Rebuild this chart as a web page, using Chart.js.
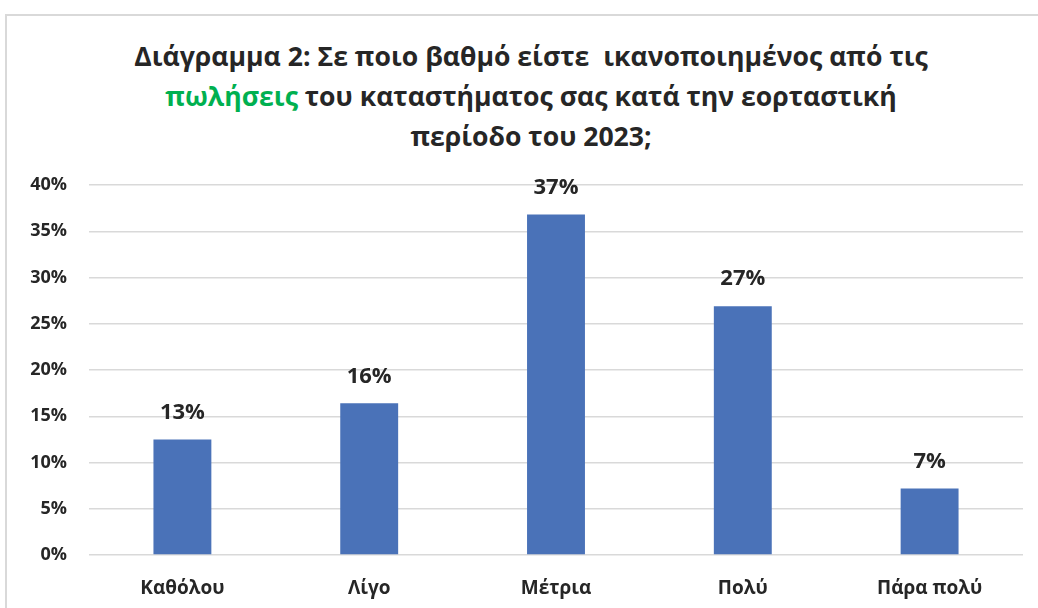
<!DOCTYPE html>
<html>
<head>
<meta charset="utf-8">
<script src="https://cdn.jsdelivr.net/npm/chart.js@4/dist/chart.umd.min.js"></script>
<style>
  html, body { margin: 0; padding: 0; background: #fff; }
  #wrap { position: relative; width: 1038px; height: 608px; overflow: hidden; }
  #frame {
    position: absolute; left: 5px; top: 14px; width: 1060px; height: 620px;
    border: 2px solid #d9d9d9; box-sizing: border-box;
  }
  #title {
    position: absolute; left: 81px; width: 900px; top: 36px;
    text-align: center; font-family: "Open Sans", sans-serif; font-weight: bold;
    font-size: 26.6px; line-height: 40px; color: #262626;
  }
  #title .green { color: #00b050; }
  canvas { position: absolute; left: 0; top: 0; }
</style>
</head>
<body>
<div id="wrap">
  <div id="frame"></div>
  <div id="title">Διάγραμμα 2: Σε ποιο βαθμό είστε&nbsp; ικανοποιημένος από τις<br><span class="green">πωλήσεις</span> του καταστήματος σας κατά την εορταστική<br>περίοδο του 2023;</div>
  <canvas id="chart" width="1038" height="608"></canvas>
</div>
<script>
// Categories and values (percent)
const categories = ["Καθόλου", "Λίγο", "Μέτρια", "Πολύ", "Πάρα πολύ"];
const values = [12.5, 16.4, 36.8, 26.9, 7.2];
const yTicks = [0, 5, 10, 15, 20, 25, 30, 35, 40];

const textColor = "#262626";
const fontFamily = "'Open Sans', sans-serif";

// Draw value labels above each bar
const barLabels = {
  id: "barLabels",
  afterDatasetsDraw(chart) {
    const ctx = chart.ctx;
    const meta = chart.getDatasetMeta(0);
    ctx.save();
    ctx.font = "bold 22px " + fontFamily;
    ctx.fillStyle = textColor;
    ctx.textAlign = "center";
    ctx.textBaseline = "middle";
    meta.data.forEach((bar, i) => {
      ctx.fillText(Math.round(values[i]) + "%", bar.x, bar.y - 27);
    });
    ctx.restore();
  },
};

new Chart(document.getElementById("chart"), {
  type: "bar",
  data: {
    labels: categories,
    datasets: [
      {
        data: values,
        backgroundColor: "#4A72B8",
        barPercentage: 0.31,
        categoryPercentage: 1,
      },
    ],
  },
  options: {
    responsive: false,
    animation: false,
    layout: { padding: { top: 185, right: 15, left: 0, bottom: 0 } },
    plugins: {
      legend: { display: false },
      title: { display: false },
      tooltip: { enabled: false },
    },
    scales: {
      x: {
        grid: { display: false },
        border: { display: false },
        ticks: {
          color: textColor,
          font: { family: fontFamily, size: 19, weight: "bold" },
          padding: 14,
        },
        afterFit: (scale) => { scale.height = 53; },
      },
      y: {
        min: 0,
        max: 40,
        afterBuildTicks: (scale) => {
          scale.ticks = yTicks.map((v) => ({ value: v }));
        },
        grid: { color: "#d9d9d9", lineWidth: 1.5, drawTicks: false },
        border: { display: false },
        ticks: {
          color: textColor,
          font: { family: fontFamily, size: 18, weight: "bold" },
          padding: 22,
          callback: (v) => v + "%",
        },
        afterFit: (scale) => { scale.width = 89; },
      },
    },
  },
  plugins: [barLabels],
});
</script>
</body>
</html>
